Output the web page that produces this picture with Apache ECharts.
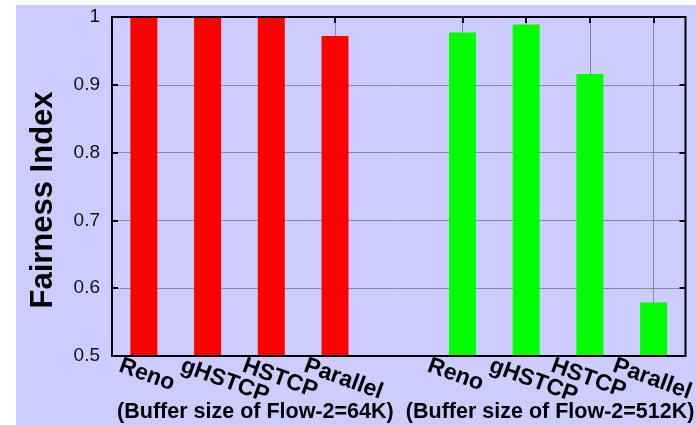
<!DOCTYPE html>
<html>
<head>
<meta charset="utf-8">
<script src="https://cdn.jsdelivr.net/npm/echarts@6/dist/echarts.min.js"></script>
<style>
  html, body { margin: 0; padding: 0; background: #ffffff; }
  #chart { width: 696px; height: 425px; }
</style>
</head>
<body>
<div id="chart"></div>
<script>
// Protocol names along the x axis; the blank slot separates the two buffer groups.
const categories = ['Reno', 'gHSTCP', 'HSTCP', 'Parallel', '', 'Reno', 'gHSTCP', 'HSTCP', 'Parallel'];
// Fairness index per protocol, Flow-2 buffer = 64K
const fairness64K = [1.0, 1.0, 1.0, 0.972];
// Fairness index per protocol, Flow-2 buffer = 512K
const fairness512K = [0.977, 0.989, 0.916, 0.579];
// Group captions under the protocol names
const groupLabels = ['(Buffer size of Flow-2=64K)', '(Buffer size of Flow-2=512K)'];
// Y axis range and step
const yMin = 0.5, yMax = 1.0, yStep = 0.1;

const FONT = '"Liberation Sans", Arial, Helvetica, sans-serif';
const GRID_COLOR = '#8a8aa6';
// plot box and the label box (same width, nudged left so slanted names start before the tick)
const PLOT = { left: 112, top: 17, right: 5, bottom: 69 };
const LABEL_SHIFT = 23;

// Place each group's values in its own slots of the shared category axis.
const redData = categories.map((c, i) => i < fairness64K.length ? fairness64K[i] : '-');
const greenData = categories.map((c, i) => i > fairness64K.length ? fairness512K[i - fairness64K.length - 1] : '-');

const chart = echarts.init(document.getElementById('chart'), null, { renderer: 'canvas' });

const option = {
  animation: false,
  backgroundColor: 'transparent',
  graphic: [
    {
      type: 'rect',
      z: -10,
      silent: true,
      shape: { x: 16, y: 5, width: 680, height: 420 },
      style: { fill: '#ccccff' }
    },
    {
      type: 'text',
      x: 43,
      y: 200,
      rotation: Math.PI / 2,
      style: {
        text: 'Fairness Index',
        font: 'bold 31px ' + FONT,
        fill: '#000000',
        align: 'center',
        verticalAlign: 'middle'
      }
    }
  ],
  grid: [
    {
      left: PLOT.left, top: PLOT.top, right: PLOT.right, bottom: PLOT.bottom,
      show: true,
      z: 3,
      borderColor: '#000000',
      borderWidth: 2,
      backgroundColor: 'transparent'
    },
    {
      left: PLOT.left - LABEL_SHIFT, top: PLOT.top, right: PLOT.right + LABEL_SHIFT, bottom: PLOT.bottom,
      show: false
    }
  ],
  xAxis: [
    {
      type: 'category',
      gridIndex: 0,
      data: categories,
      position: 'bottom',
      boundaryGap: true,
      axisLine: { show: false },
      axisTick: { show: false },
      splitLine: { show: false },
      axisLabel: { show: false }
    },
    {
      type: 'category',
      gridIndex: 0,
      data: groupLabels,
      position: 'bottom',
      boundaryGap: true,
      axisLine: { show: false },
      axisTick: { show: false },
      splitLine: { show: false },
      axisLabel: {
        interval: 0,
        margin: 56,
        verticalAlign: 'middle',
        color: '#000000',
        fontFamily: FONT,
        fontWeight: 'bold',
        fontSize: 21.5,
        formatter: (v) => v === groupLabels[1] ? '{b|' + v + '}' : '{a|' + v + '}',
        rich: {
          a: { fontFamily: FONT, fontWeight: 'bold', fontSize: 21.5, color: '#000000', padding: [0, 0, 0, 0] },
          b: { fontFamily: FONT, fontWeight: 'bold', fontSize: 21.5, color: '#000000', padding: [0, 0, 0, 16] }
        }
      }
    },
    {
      // top edge: inward ticks and vertical grid lines at each protocol
      type: 'category',
      gridIndex: 0,
      data: categories,
      position: 'top',
      boundaryGap: true,
      axisLine: { show: false },
      axisLabel: { show: false },
      axisTick: {
        show: true,
        inside: true,
        length: 6,
        alignWithLabel: true,
        interval: (idx, val) => val !== '',
        lineStyle: { color: '#000000', width: 2 }
      },
      splitLine: {
        show: true,
        alignWithLabel: true,
        interval: (idx, val) => val !== '',
        lineStyle: { color: GRID_COLOR, width: 1 }
      }
    },
    {
      // slanted protocol names
      type: 'category',
      gridIndex: 1,
      data: categories,
      position: 'bottom',
      boundaryGap: true,
      axisLine: { show: false },
      axisTick: { show: false },
      splitLine: { show: false },
      axisLabel: {
        interval: 0,
        rotate: -20,
        align: 'left',
        verticalAlign: 'middle',
        margin: 9,
        color: '#000000',
        fontFamily: FONT,
        fontWeight: 'bold',
        fontSize: 23
      }
    }
  ],
  yAxis: [
    {
      type: 'value',
      gridIndex: 0,
      min: yMin, max: yMax, interval: yStep,
      position: 'left',
      axisLine: { show: false },
      axisTick: { show: true, inside: true, length: 6, lineStyle: { color: '#000000', width: 2 } },
      splitLine: { show: true, lineStyle: { color: GRID_COLOR, width: 1 } },
      axisLabel: {
        margin: 12,
        color: '#111111',
        fontFamily: FONT,
        fontSize: 19
      }
    },
    {
      type: 'value',
      gridIndex: 0,
      min: yMin, max: yMax, interval: yStep,
      position: 'right',
      axisLine: { show: false },
      axisTick: { show: true, inside: true, length: 6, lineStyle: { color: '#000000', width: 2 } },
      splitLine: { show: false },
      axisLabel: { show: false }
    },
    {
      type: 'value',
      gridIndex: 1,
      min: yMin, max: yMax, interval: yStep,
      show: false
    }
  ],
  series: [
    {
      name: '64K',
      type: 'bar',
      xAxisIndex: 0,
      yAxisIndex: 0,
      data: redData,
      barWidth: 27,
      barGap: '-100%',
      itemStyle: { color: '#ff0000' }
    },
    {
      name: '512K',
      type: 'bar',
      xAxisIndex: 0,
      yAxisIndex: 0,
      data: greenData,
      barWidth: 27,
      barGap: '-100%',
      itemStyle: { color: '#00ff00' }
    }
  ]
};

chart.setOption(option);
</script>
</body>
</html>
